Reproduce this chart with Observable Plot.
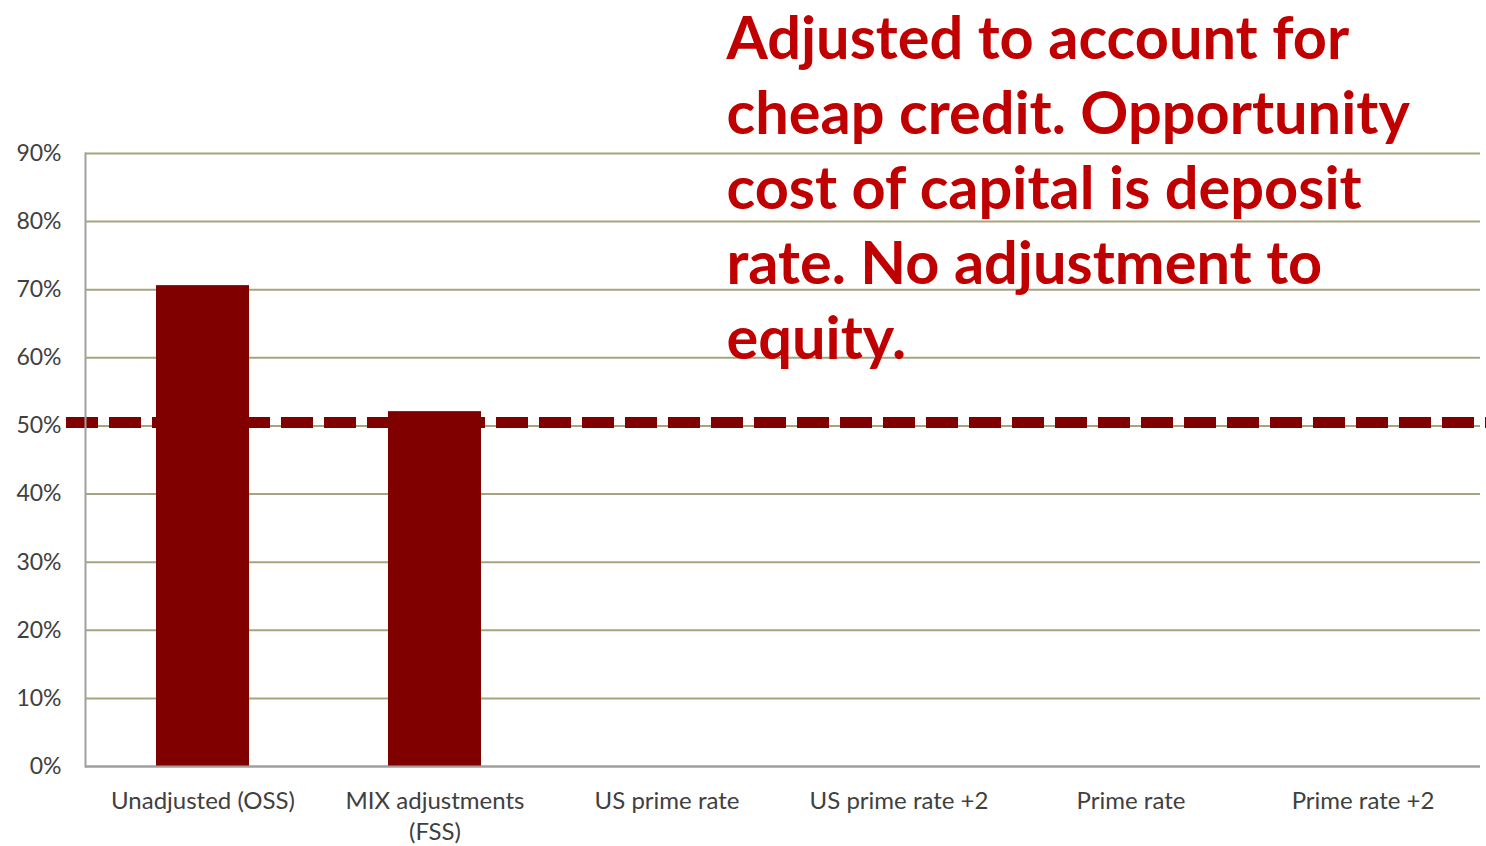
<!DOCTYPE html>
<html>
<head>
<meta charset="utf-8">
<script src="https://cdn.jsdelivr.net/npm/d3@7"></script>
<script src="https://cdn.jsdelivr.net/npm/@observablehq/plot@0.6"></script>
<style>
  html, body { margin: 0; padding: 0; background: #fff; }
</style>
</head>
<body>
<div id="chart"></div>
<script>
const categories = ["Unadjusted (OSS)", "MIX adjustments\n(FSS)", "US prime rate", "US prime rate +2", "Prime rate", "Prime rate +2"];
const values = [0.706, 0.521, null, null, null, null];
const threshold = 0.505;
const yTicks = [0, 0.1, 0.2, 0.3, 0.4, 0.5, 0.6, 0.7, 0.8, 0.9];
const noteLines = ["Adjusted to account for", "cheap credit. Opportunity", "cost of capital is deposit", "rate. No adjustment to", "equity."];

const data = categories.map((c, i) => ({category: c, value: values[i]})).filter(d => d.value != null);

const chart = Plot.plot({
  width: 1486,
  height: 846,
  marginLeft: 85,
  marginRight: 6,
  marginTop: 153,
  marginBottom: 80,
  style: {fontFamily: "Lato, 'Open Sans', sans-serif", background: "#fff"},
  x: {domain: categories, paddingInner: 0.6, paddingOuter: 0.3, label: null},
  y: {domain: [0, 0.9], label: null},
  marks: [
    Plot.gridY(yTicks, {stroke: "#A6A47F", strokeOpacity: 1, strokeWidth: 2}),
    Plot.barY(data, {x: "category", y: "value", fill: "#800000"}),
    Plot.ruleY([threshold], {stroke: "#800000", strokeWidth: 11, strokeDasharray: "32,11", insetLeft: -19, insetRight: -6}),
    Plot.frame({anchor: "left", stroke: "#A0A0A0", strokeWidth: 2}),
    Plot.ruleY([0], {stroke: "#A0A0A0", strokeWidth: 2}),
    Plot.axisY(yTicks, {tickFormat: d3.format(".0%"), tickSize: 0, tickPadding: 24, fontSize: 23, fill: "#404040", label: null}),
    Plot.axisX({tickSize: 0, tickPadding: 20, fontSize: 24, fill: "#404040", label: null, lineHeight: 1.3}),
    Plot.text([noteLines.join("\n")], {
      text: d => d, frameAnchor: "top-left", textAnchor: "start", lineAnchor: "top",
      dx: 641, dy: -148, fontSize: 59.5, fontWeight: 700, lineHeight: 1.26,
      fill: "#C00000", stroke: null
    })
  ]
});
document.getElementById("chart").appendChild(chart);
</script>
</body>
</html>
